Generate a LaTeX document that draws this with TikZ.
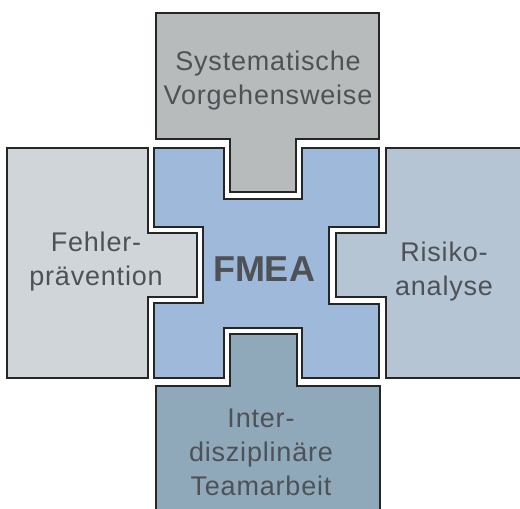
\documentclass[tikz,border=0pt]{standalone}
\usepackage{fontspec}
\setmainfont{Liberation Sans}
\definecolor{cTop}{RGB}{184,187,187}
\definecolor{cLeft}{RGB}{207,213,217}
\definecolor{cCenter}{RGB}{158,185,218}
\definecolor{cRight}{RGB}{181,197,212}
\definecolor{cBottom}{RGB}{143,168,186}
\definecolor{cText}{RGB}{78,82,86}
\definecolor{cLine}{RGB}{38,38,38}
\begin{document}
\begin{tikzpicture}[x=1pt,y=-1pt,
  piece/.style={draw=cLine,line width=1.6pt,line join=miter},
  lbl/.style={text=cText,align=center,inner sep=0pt,font=\fontsize{27}{34}\selectfont\addfontfeatures{LetterSpace=3}}]
\useasboundingbox (0,0) rectangle (520,509);
\clip (0,0) rectangle (520,509);
% top piece
\draw[piece,fill=cTop] (156,13) -- (379,13) -- (379,139) -- (296,139) -- (296,192) -- (230,192) -- (230,139) -- (156,139) -- cycle;
% centre piece
\draw[piece,fill=cCenter] (154,148) -- (224,148) -- (224,199) -- (302,199) -- (302,148) -- (379,148) -- (379,227) -- (329,227) -- (329,304) -- (379,304) -- (379,378) -- (302,378) -- (302,328) -- (224,328) -- (224,378) -- (154,378) -- (154,303) -- (203,303) -- (203,227) -- (154,227) -- cycle;
% left piece
\draw[piece,fill=cLeft] (7,148) -- (148,148) -- (148,233) -- (197,233) -- (197,297) -- (148,297) -- (148,378) -- (7,378) -- cycle;
% right piece
\draw[piece,fill=cRight] (386,148) -- (530,148) -- (530,378) -- (386,378) -- (386,297) -- (336,297) -- (336,233) -- (386,233) -- cycle;
% bottom piece
\draw[piece,fill=cBottom] (156,386) -- (230,386) -- (230,334) -- (297,334) -- (297,386) -- (380,386) -- (380,520) -- (156,520) -- cycle;
% labels
\node[lbl] (sys) at (268,81) {Systematische\\Vorgehensweise};
\node[lbl] (feh) at (96,262) {Fehler-\\prävention};
\node[lbl] (ris) at (444,272) {Risiko-\\analyse};
\node[lbl] (int) at (261,452) {Inter-\\disziplinäre\\Teamarbeit};
\node[text=cText,inner sep=0pt,font=\fontsize{36}{42}\selectfont\bfseries] (fmea) at (264,269) {FMEA};
\end{tikzpicture}
\end{document}
